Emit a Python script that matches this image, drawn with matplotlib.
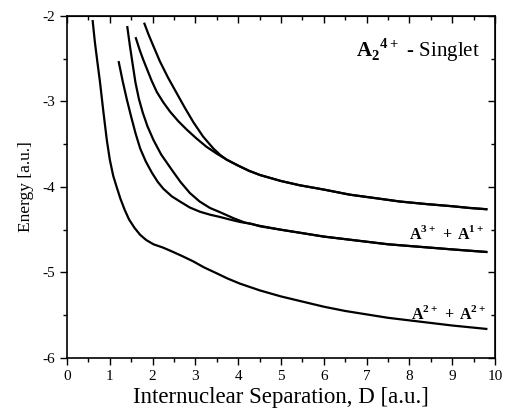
import matplotlib
matplotlib.use("Agg")
import matplotlib.pyplot as plt
from matplotlib.ticker import MultipleLocator

plt.rcParams['font.family'] = 'Liberation Serif'
plt.rcParams['mathtext.fontset'] = 'custom'
plt.rcParams['mathtext.rm'] = 'Liberation Serif'
plt.rcParams['mathtext.bf'] = 'Liberation Serif:bold'
plt.rcParams['axes.unicode_minus'] = False

# A2+ + A2+ asymptote
d1 = [0.60, 0.65, 0.70, 0.77, 0.85, 0.93, 1.00, 1.08, 1.16, 1.25, 1.35, 1.45, 1.58, 1.71,
      1.85, 2.02, 2.25, 2.48, 2.70, 2.95, 3.20, 3.50, 3.75, 4.04, 4.51, 5.0, 5.5, 6.0,
      6.5, 7.0, 7.5, 8.0, 8.5, 9.0, 9.4, 9.8]
e1 = [-2.06, -2.30, -2.50, -2.77, -3.12, -3.45, -3.68, -3.87, -4.00, -4.14, -4.27, -4.38, -4.48, -4.56,
      -4.62, -4.67, -4.71, -4.76, -4.81, -4.87, -4.94, -5.01, -5.07, -5.13, -5.21, -5.28, -5.34, -5.40,
      -5.45, -5.49, -5.53, -5.56, -5.59, -5.62, -5.64, -5.66]

# A3+ + A1+ asymptote (two curves)
d2 = [1.21, 1.30, 1.40, 1.50, 1.60, 1.71, 1.84, 1.98, 2.12, 2.25, 2.45, 2.64, 2.87, 3.11,
      3.35, 3.57, 3.80, 4.05, 4.30, 4.51, 5.0, 5.44, 6.0, 6.5, 7.0, 7.5, 8.0, 8.5, 9.0, 9.4, 9.8]
e2 = [-2.54, -2.76, -2.98, -3.18, -3.37, -3.55, -3.70, -3.83, -3.94, -4.02, -4.11, -4.17, -4.24, -4.29,
      -4.325, -4.35, -4.38, -4.41, -4.43, -4.46, -4.50, -4.535, -4.58, -4.61, -4.64, -4.67, -4.69,
      -4.71, -4.73, -4.745, -4.76]
d3 = [1.41, 1.47, 1.53, 1.60, 1.68, 1.77, 1.88, 2.02, 2.20, 2.45, 2.65, 2.87, 3.10, 3.34,
      3.60, 3.89, 4.15, 4.51, 5.0, 5.44, 6.0, 6.5, 7.0, 7.5, 8.0, 8.5, 9.0, 9.4, 9.8]
e3 = [-2.13, -2.35, -2.55, -2.78, -2.97, -3.13, -3.29, -3.45, -3.62, -3.80, -3.94, -4.07, -4.17, -4.245,
      -4.30, -4.365, -4.415, -4.455, -4.50, -4.535, -4.58, -4.61, -4.64, -4.67, -4.69, -4.71, -4.73,
      -4.745, -4.76]

# upper asymptote (two curves)
d4 = [1.61, 1.70, 1.78, 1.86, 1.98, 2.10, 2.25, 2.41, 2.60, 2.80, 3.02, 3.26, 3.50, 3.73,
      4.0, 4.25, 4.51, 5.0, 5.44, 6.0, 6.61, 7.2, 7.78, 8.4, 9.0, 9.4, 9.8]
e4 = [-2.26, -2.40, -2.51, -2.61, -2.76, -2.89, -3.01, -3.12, -3.23, -3.33, -3.43, -3.53, -3.61, -3.68,
      -3.75, -3.81, -3.86, -3.93, -3.98, -4.03, -4.09, -4.13, -4.17, -4.20, -4.225, -4.245, -4.26]
d5 = [1.81, 1.90, 2.00, 2.17, 2.36, 2.56, 2.75, 2.95, 3.18, 3.42, 3.58, 3.73,
      4.0, 4.25, 4.51, 5.0, 5.44, 6.0, 6.61, 7.2, 7.78, 8.4, 9.0, 9.4, 9.8]
e5 = [-2.09, -2.21, -2.33, -2.53, -2.72, -2.90, -3.07, -3.24, -3.41, -3.55, -3.625, -3.68,
      -3.75, -3.81, -3.86, -3.93, -3.98, -4.03, -4.09, -4.13, -4.17, -4.20, -4.225, -4.245, -4.26]

fig = plt.figure(figsize=(5.05, 4.13), dpi=100)
ax = fig.add_axes([0.1327, 0.1332, 0.8473, 0.8281])

for xs, ys in [(d1, e1), (d2, e2), (d3, e3), (d4, e4), (d5, e5)]:
    ax.plot(xs, ys, color='black', lw=1.6, solid_joinstyle='round')

ax.set_xlim(0, 10)
ax.set_ylim(-6, -2)
ax.xaxis.set_major_locator(MultipleLocator(1))
ax.xaxis.set_minor_locator(MultipleLocator(0.5))
ax.yaxis.set_major_locator(MultipleLocator(1))
ax.yaxis.set_minor_locator(MultipleLocator(0.5))
ax.tick_params(which='major', direction='out', length=5, width=1, labelsize=11)
ax.tick_params(which='minor', direction='out', length=3, width=1)
for s in ax.spines.values():
    s.set_linewidth(1.2)

# inward ticks on top and right, no labels
top = ax.secondary_xaxis('top')
top.xaxis.set_major_locator(MultipleLocator(1))
top.xaxis.set_minor_locator(MultipleLocator(0.5))
top.tick_params(which='major', direction='in', length=5, width=1, labeltop=False)
top.tick_params(which='minor', direction='in', length=3, width=1)
right = ax.secondary_yaxis('right')
right.yaxis.set_major_locator(MultipleLocator(1))
right.yaxis.set_minor_locator(MultipleLocator(0.5))
right.tick_params(which='major', direction='in', length=5, width=1, labelright=False)
right.tick_params(which='minor', direction='in', length=3, width=1)

ax.set_xlabel("Internuclear Separation, D [a.u.]", fontsize=16.5, labelpad=3)
ax.set_ylabel("Energy [a.u.]", fontsize=12.5, labelpad=6)

ax.text(9.65, -2.4, r'$\mathbf{A}_{\mathbf{2}}{}^{\mathbf{4+}}$ - Singlet',
        fontsize=15, ha='right', va='center')
ax.text(9.75, -4.55, r'$\mathbf{A}^{\mathbf{3+}}\ \mathbf{+}\ \mathbf{A}^{\mathbf{1+}}$',
        fontsize=11.5, ha='right', va='center')
ax.text(9.8, -5.49, r'$\mathbf{A}^{\mathbf{2+}}\ \mathbf{+}\ \mathbf{A}^{\mathbf{2+}}$',
        fontsize=11.5, ha='right', va='center')

fig.savefig("out.png", dpi=100)
